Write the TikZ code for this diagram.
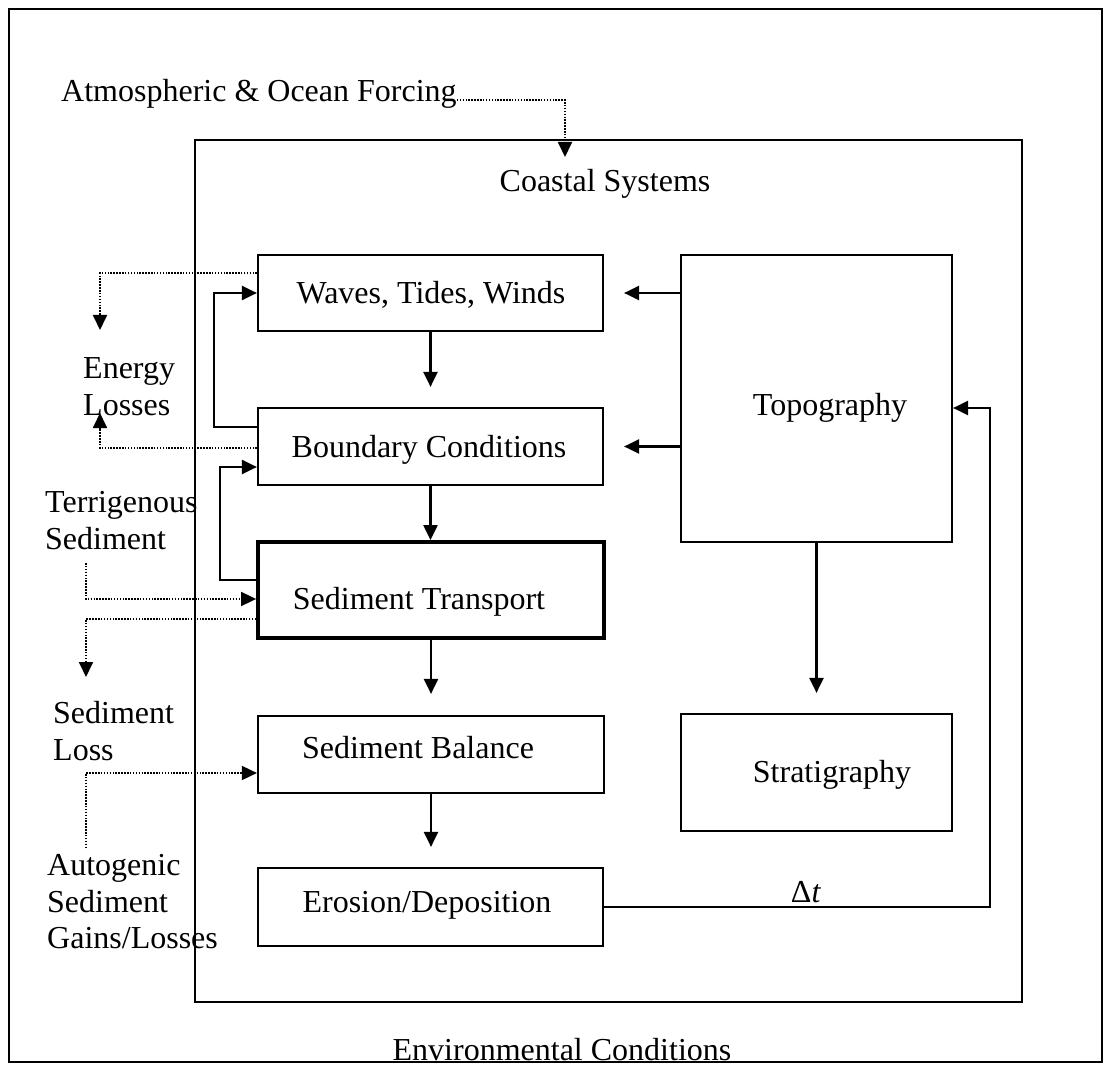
\documentclass[tikz,border=0pt]{standalone}
\usepackage{fontspec}
\setmainfont{Liberation Serif}
\usetikzlibrary{arrows.meta,calc}
\begin{document}
\begin{tikzpicture}[x=1pt,y=-1pt,
  font=\fontsize{32}{36.5}\selectfont,
  box/.style={draw, line width=2.2pt, inner sep=0pt},
  thickbox/.style={box, line width=3.8pt},
  txt/.style={inner sep=0pt, align=left},
  arr/.style={line width=2.2pt, -{Triangle[length=15pt,width=14pt]}},
  dotarr/.style={line width=1.8pt, dash pattern=on 1.5pt off 1.4pt, -{Triangle[length=15pt,width=14pt]}}]
\useasboundingbox (0,0) rectangle (1109,1067);

% frames
\node[box, minimum width=1093pt, minimum height=1053pt] (env) at (555.5,535.5) {};
\node[box, minimum width=827pt, minimum height=862pt] (coast) at (608.5,571) {};

% boxes
\node[box, minimum width=345pt, minimum height=76pt] (waves) at (430.5,293) {};
\node[box, minimum width=345pt, minimum height=77pt] (bound) at (430.5,446.5) {};
\node[thickbox, minimum width=346pt, minimum height=96pt] (sedt) at (431,590) {};
\node[box, minimum width=346pt, minimum height=77pt] (bal) at (431,754.5) {};
\node[box, minimum width=345pt, minimum height=78pt] (eros) at (430.5,907) {};
\node[box, minimum width=271pt, minimum height=287pt] (topo) at (816.5,398.5) {};
\node[box, minimum width=271pt, minimum height=117pt] (strat) at (816.5,772.5) {};

% box texts
\node[txt, anchor=base] (wavesT) at (431,304) {Waves, Tides, Winds};
\node[txt, anchor=base] (boundT) at (429,457) {Boundary Conditions};
\node[txt, anchor=base] (sedtT) at (419,609) {Sediment Transport};
\node[txt, anchor=base] (balT) at (418,758) {Sediment Balance};
\node[txt, anchor=base] (erosT) at (427,912) {Erosion/Deposition};
\node[txt, anchor=base] (topoT) at (830,416) {Topography};
\node[txt, anchor=base] (stratT) at (832,782) {Stratigraphy};
\node[txt, anchor=base] (coastT) at (605,192) {Coastal Systems};

% outside labels
\node[txt, anchor=base west] (atm) at (61,102) {Atmospheric \& Ocean Forcing};
\node[txt, anchor=north west] (energy) at (83,357.5) {Energy\\Losses};
\node[txt, anchor=north west] (terr) at (45,491.5) {Terrigenous\\Sediment};
\node[txt, anchor=north west] (loss) at (53,701.5) {Sediment\\Loss};
\node[txt, anchor=north west] (auto) at (47,854.5) {Autogenic\\Sediment\\Gains/Losses};
\node[txt, anchor=base] (envT) at (562,1060) {Environmental Conditions};

% main flow
\draw[arr, shorten >=20pt] (waves) -- (bound);
\draw[arr] (bound.south) -- (bound.south |- sedt.north);
\draw[arr, shorten >=21pt] (sedt.south) -- (sedt.south |- bal.north);
\draw[arr, shorten >=20pt] (bal.south) -- (bal.south |- eros.north);
\draw[arr, shorten >=20pt] (topo) -- (strat);
\draw[arr, shorten >=20pt] (topo.west |- waves.east) -- (waves.east);
\draw[arr, shorten >=20pt] (topo.west |- bound.east) -- (bound.east);

% time step loop
\coordinate (r1) at (990,408);
\draw[arr] (eros.east) -| (r1) -- (r1 -| topo.east);
\node[txt, anchor=base] (dt) at (806,902) {Δ\textit{t}};

% feedback loops
\coordinate (l1) at (214,427);
\draw[arr] (l1 -| bound.west) -- (l1) |- (waves.west);
\coordinate (l2) at (220,580);
\coordinate (l2t) at (258,467);
\draw[arr] (l2 -| sedt.west) -- (l2) |- (l2t -| bound.west);

% forcing
\coordinate (a1) at (565,100);
\coordinate (a2) at (565,157);
\draw[dotarr] (atm.east |- a1) -- (a1) -- (a2);

% energy losses
\coordinate (e1) at (100,273);
\coordinate (e1t) at (100,330);
\draw[dotarr] (waves.west |- e1) -- (e1) -- (e1t);
\coordinate (e2) at (100,448);
\coordinate (e2t) at (100,413);
\draw[dotarr] (bound.west |- e2) -- (e2) -- (e2t);

% sediment in / out
\coordinate (t1) at (86,563);
\coordinate (t2) at (86,599);
\draw[dotarr] (t1) -- (t2) -- (t2 -| sedt.west);
\coordinate (s1) at (86,619);
\coordinate (s2) at (86,677);
\draw[dotarr] (s1 -| sedt.west) -- (s1) -- (s2);
\coordinate (g1) at (86,848);
\coordinate (g2) at (86,773);
\draw[dotarr] (g1) -- (g2) -- (g2 -| bal.west);
\end{tikzpicture}
\end{document}
